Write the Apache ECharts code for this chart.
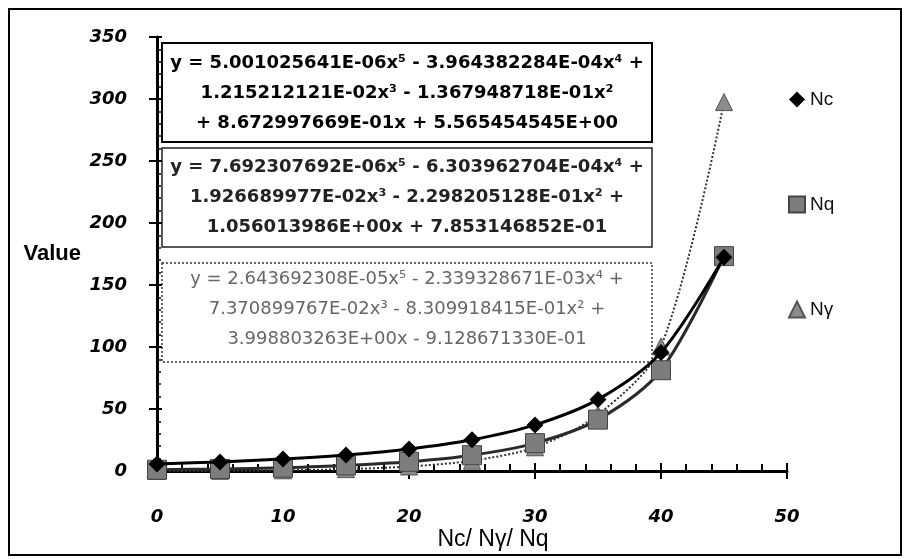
<!DOCTYPE html>
<html>
<head>
<meta charset="utf-8">
<script src="https://cdn.jsdelivr.net/npm/echarts@6/dist/echarts.min.js"></script>
<style>
html,body{margin:0;padding:0;background:#fff;}
#chart{width:907px;height:559px;}
</style>
</head>
<body>
<div id="chart"></div>
<script>
// ---- data ----
const phi = [0, 5, 10, 15, 20, 25, 30, 35, 40, 45];
const Nc  = [5.7, 7.34, 9.61, 12.86, 17.69, 25.13, 37.16, 57.75, 95.66, 172.28];
const Nq  = [1.0, 1.64, 2.69, 4.45, 7.44, 12.72, 22.46, 41.44, 81.27, 173.28];
const Ng  = [0.0, 0.14, 0.56, 1.52, 3.64, 8.34, 19.13, 45.41, 100.39, 297.5];
const seriesNames = ['Nc', 'Nq', 'Nγ'];
const xTicks = [0, 10, 20, 30, 40, 50];
const yTicks = [0, 50, 100, 150, 200, 250, 300, 350];
const eqNc = ['y = 5.001025641E-06x⁵ - 3.964382284E-04x⁴ +',
              '1.215212121E-02x³ - 1.367948718E-01x²',
              '+ 8.672997669E-01x + 5.565454545E+00'];
const eqNq = ['y = 7.692307692E-06x⁵ - 6.303962704E-04x⁴ +',
              '1.926689977E-02x³ - 2.298205128E-01x² +',
              '1.056013986E+00x + 7.853146852E-01'];
const eqNg = ['y = 2.643692308E-05x⁵ - 2.339328671E-03x⁴ +',
              '7.370899767E-02x³ - 8.309918415E-01x² +',
              '3.998803263E+00x - 9.128671330E-01'];
const xTitle = 'Nc/ Nγ/ Nq';
const yTitle = 'Value';

const pairs = (ys) => phi.map((x, i) => [x, ys[i]]);

const chart = echarts.init(document.getElementById('chart'), null, {renderer: 'canvas'});

const tickFont = {fontFamily: 'DejaVu Sans', fontWeight: 'bold', fontStyle: 'italic', fontSize: 18, color: '#000'};

function eqBox(lines, top, opts) {
  const left = 162, width = 490, height = 99;
  const children = [{
    type: 'rect',
    shape: {x: left, y: top, width: width, height: height},
    style: {fill: '#fff', stroke: opts.stroke, lineWidth: opts.lw, lineDash: opts.dash}
  }];
  lines.forEach((t, i) => {
    children.push({
      type: 'text',
      x: left + width / 2, y: top + opts.first + i * 30,
      style: {text: t, fill: opts.color, font: opts.font, textAlign: 'center', textVerticalAlign: 'middle'}
    });
  });
  return {type: 'group', z: 50, children: children};
}

const option = {
  animation: false,
  backgroundColor: '#fff',
  grid: {left: 157, right: 120, top: 37, bottom: 88, containLabel: false},
  legend: {
    orient: 'vertical', left: 783, top: 85,
    itemWidth: 16, itemHeight: 16, itemGap: 86,
    textStyle: {fontFamily: 'Liberation Sans', fontSize: 19, color: '#111', padding: [0, 0, 0, 0]},
    data: [
      {name: 'Nc', icon: 'diamond'},
      {name: 'Nq', icon: 'rect'},
      {name: 'Nγ', icon: 'triangle'}
    ]
  },
  xAxis: [{
    type: 'value', min: 0, max: 50, interval: 10,
    axisLine: {show: true, onZero: false, lineStyle: {color: '#000', width: 3}},
    axisTick: {show: true, inside: false, length: 8, lineStyle: {color: '#000', width: 2}},
    minorTick: {show: false},
    splitLine: {show: false},
    axisLabel: Object.assign({margin: 37, formatter: v => xTicks.includes(v) ? String(v) : ''}, tickFont)
  }, {
    type: 'value', min: 0, max: 50, interval: 10, position: 'bottom',
    axisLine: {show: false},
    axisTick: {show: true, inside: true, length: 8, lineStyle: {color: '#000', width: 2}},
    minorTick: {show: true, splitNumber: 5, length: 7, lineStyle: {color: '#000', width: 2}},
    splitLine: {show: false}, axisLabel: {show: false}
  }],
  yAxis: [{
    type: 'value', min: 0, max: 350, interval: 50,
    name: yTitle, nameLocation: 'middle', nameRotate: 0, nameGap: 76,
    nameTextStyle: {fontFamily: 'Liberation Sans', fontWeight: 'bold', fontSize: 22, color: '#000'},
    axisLine: {show: true, onZero: false, lineStyle: {color: '#000', width: 3}},
    axisTick: {show: true, inside: false, length: 8, lineStyle: {color: '#000', width: 2}},
    splitLine: {show: false},
    axisLabel: Object.assign({margin: 30, formatter: v => yTicks.includes(v) ? String(v) : ''}, tickFont)
  }, {
    type: 'value', min: 0, max: 350, interval: 50, position: 'left',
    axisLine: {show: false},
    axisTick: {show: true, inside: true, length: 5, lineStyle: {color: '#000', width: 2}},
    minorTick: {show: true, splitNumber: 5, length: 4, lineStyle: {color: '#000', width: 1.5}},
    splitLine: {show: false}, axisLabel: {show: false}
  }],
  series: [
    {
      name: 'Nγ', type: 'line', data: pairs(Ng), smooth: 0.3,
      symbol: 'triangle', symbolSize: 17,
      itemStyle: {color: '#8c8c8c', borderColor: '#555', borderWidth: 1},
      lineStyle: {color: '#333', width: 2, type: 'dotted'}, z: 3
    },
    {
      name: 'Nq', type: 'line', data: pairs(Nq), smooth: 0.3,
      symbol: 'rect', symbolSize: 19,
      itemStyle: {color: '#7d7d7d', borderColor: '#444', borderWidth: 1},
      lineStyle: {color: '#2a2a2a', width: 3}, z: 4
    },
    {
      name: 'Nc', type: 'line', data: pairs(Nc), smooth: 0.3,
      symbol: 'diamond', symbolSize: 17,
      itemStyle: {color: '#000'},
      lineStyle: {color: '#000', width: 3}, z: 5
    }
  ],
  graphic: [
    {type: 'rect', z: 0, silent: true,
     shape: {x: 9, y: 9, width: 892, height: 546},
     style: {fill: 'none', stroke: '#000', lineWidth: 2}},
    eqBox(eqNc, 43, {first: 20, stroke: '#000', lw: 2, dash: null, color: '#000', font: 'bold 18px "DejaVu Sans"'}),
    eqBox(eqNq, 148, {first: 19, stroke: '#222', lw: 1.5, dash: null, color: '#222', font: 'bold 18px "DejaVu Sans"'}),
    eqBox(eqNg, 263, {first: 16, stroke: '#333', lw: 1.5, dash: [2, 2], color: '#666', font: '18px "DejaVu Sans"'}),
    {type: 'text', z: 50, x: 493, y: 540,
     style: {text: xTitle, fill: '#000', font: '23px "Liberation Sans"', textAlign: 'center', textVerticalAlign: 'middle'}}
  ]
};
chart.setOption(option);
</script>
</body>
</html>
